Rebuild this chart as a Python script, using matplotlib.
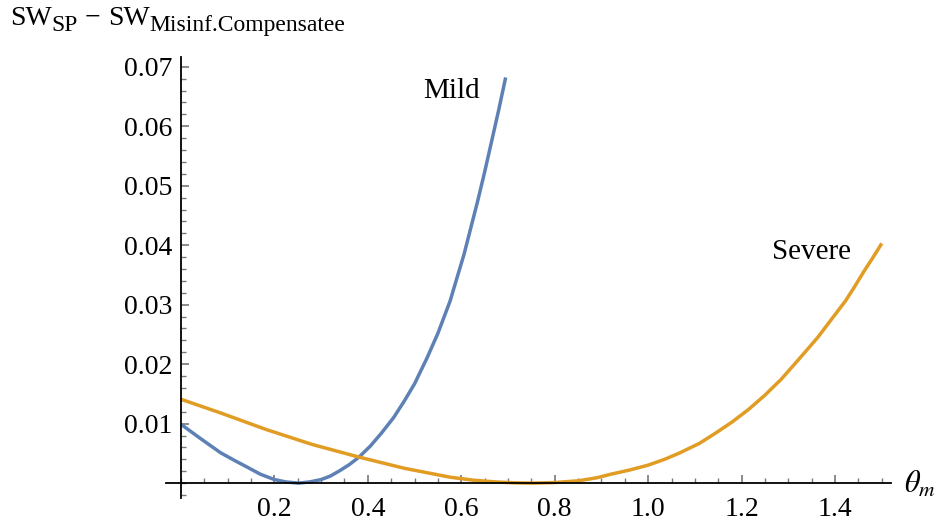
import numpy as np
import matplotlib.pyplot as plt
from matplotlib.ticker import FixedLocator, MultipleLocator

plt.rcParams["font.family"] = ["Liberation Serif", "DejaVu Serif"]
plt.rcParams["mathtext.fontset"] = "stix"

# values
theta_mild = [0.0, 0.04, 0.085, 0.115, 0.144, 0.17, 0.2, 0.225, 0.252, 0.275,
              0.30, 0.32, 0.34, 0.36, 0.38, 0.405, 0.429, 0.455, 0.478, 0.50,
              0.527, 0.55, 0.576, 0.59, 0.606, 0.62, 0.635, 0.65, 0.665, 0.68, 0.695]
sw_mild = [0.0099, 0.0076, 0.0051, 0.0038, 0.0026, 0.0015, 0.0006, 0.0002, 0.0, 0.0002,
           0.0006, 0.0012, 0.0021, 0.0031, 0.0043, 0.0062, 0.0084, 0.0110, 0.0138, 0.0167,
           0.0211, 0.0252, 0.0306, 0.0343, 0.0385, 0.0428, 0.0474, 0.0523, 0.0575, 0.0627, 0.0682]

theta_severe = [0.0, 0.085, 0.183, 0.281, 0.380, 0.478, 0.576, 0.625, 0.675, 0.715,
                0.753, 0.80, 0.851, 0.89, 0.92, 0.96, 0.999, 1.035, 1.068, 1.11,
                1.146, 1.18, 1.215, 1.25, 1.284, 1.32, 1.363, 1.39, 1.422, 1.44,
                1.461, 1.48, 1.5]
sw_severe = [0.0141, 0.0118, 0.0090, 0.0065, 0.0044, 0.0025, 0.0010, 0.0005, 0.0002, 0.00005,
             0.0, 0.0001, 0.0004, 0.0009, 0.0015, 0.0022, 0.0030, 0.0040, 0.0051, 0.0067,
             0.0085, 0.0103, 0.0124, 0.0148, 0.0174, 0.0206, 0.0245, 0.0273, 0.0306, 0.0328,
             0.0355, 0.0378, 0.0403]

x_ticks = [0.2, 0.4, 0.6, 0.8, 1.0, 1.2, 1.4]
x_tick_labels = ["0.2", "0.4", "0.6", "0.8", "1.0", "1.2", "1.4"]
y_ticks = [0.01, 0.02, 0.03, 0.04, 0.05, 0.06, 0.07]
y_tick_labels = ["0.01", "0.02", "0.03", "0.04", "0.05", "0.06", "0.07"]

blue = "#5e81b5"
orange = "#e19c24"

fig = plt.figure(figsize=(9.48, 5.25), dpi=100)
ax = fig.add_axes([0.1756, 0.0514, 0.9400 - 0.1756, 0.891 - 0.0514])

ax.plot(theta_mild, sw_mild, color=blue, lw=2.5, solid_capstyle="butt",
        solid_joinstyle="round")
ax.plot(theta_severe, sw_severe, color=orange, lw=2.5, solid_capstyle="butt",
        solid_joinstyle="round")

ax.set_xlim(-0.031, 1.52)
ax.set_ylim(-0.0025, 0.0716)

# Mathematica-style axes crossing at the origin
for side in ["top", "right"]:
    ax.spines[side].set_visible(False)
ax.spines["left"].set_position(("data", 0))
ax.spines["bottom"].set_position(("data", 0))
for side in ["left", "bottom"]:
    ax.spines[side].set_linewidth(1.3)
    ax.spines[side].set_zorder(5)

ax.xaxis.set_major_locator(FixedLocator(x_ticks))
ax.set_xticklabels(x_tick_labels)
ax.xaxis.set_minor_locator(MultipleLocator(0.05))
ax.yaxis.set_major_locator(FixedLocator(y_ticks))
ax.set_yticklabels(y_tick_labels)
ax.yaxis.set_minor_locator(MultipleLocator(0.002))

ax.tick_params(which="both", direction="in", color="#777777", labelsize=20)
ax.tick_params(which="major", length=5.5, width=1.2)
ax.tick_params(which="minor", length=3.5, width=1.0)
ax.tick_params(axis="x", pad=10)
ax.tick_params(axis="y", pad=6)

ax.text(0.58, 0.066, "Mild", fontsize=21, ha="center", va="center")
ax.text(1.35, 0.0389, "Severe", fontsize=21, ha="center", va="center")

ax.annotate(r"$\theta_m$", xy=(1.0, 0.0), xycoords=("axes fraction", "data"),
            xytext=(9, -1), textcoords="offset points", fontsize=22,
            ha="left", va="center")

# y-axis label, built piece by piece so the subscripts keep Mathematica's size
fig.canvas.draw()
renderer = fig.canvas.get_renderer()
label_parts = [("SW", 20, 0), ("SP", 17, -6), (" \u2212 ", 20, 0),
               ("SW", 20, 0), ("Misinf.Compensatee", 17, -6)]
x_px, base_px = 10, 525 - 25
for s, size, dy in label_parts:
    t = fig.text(x_px, base_px + dy, s, fontsize=size, ha="left", va="baseline",
                 transform=None)
    x_px += t.get_window_extent(renderer).width

fig.savefig("out.png", dpi=100)
